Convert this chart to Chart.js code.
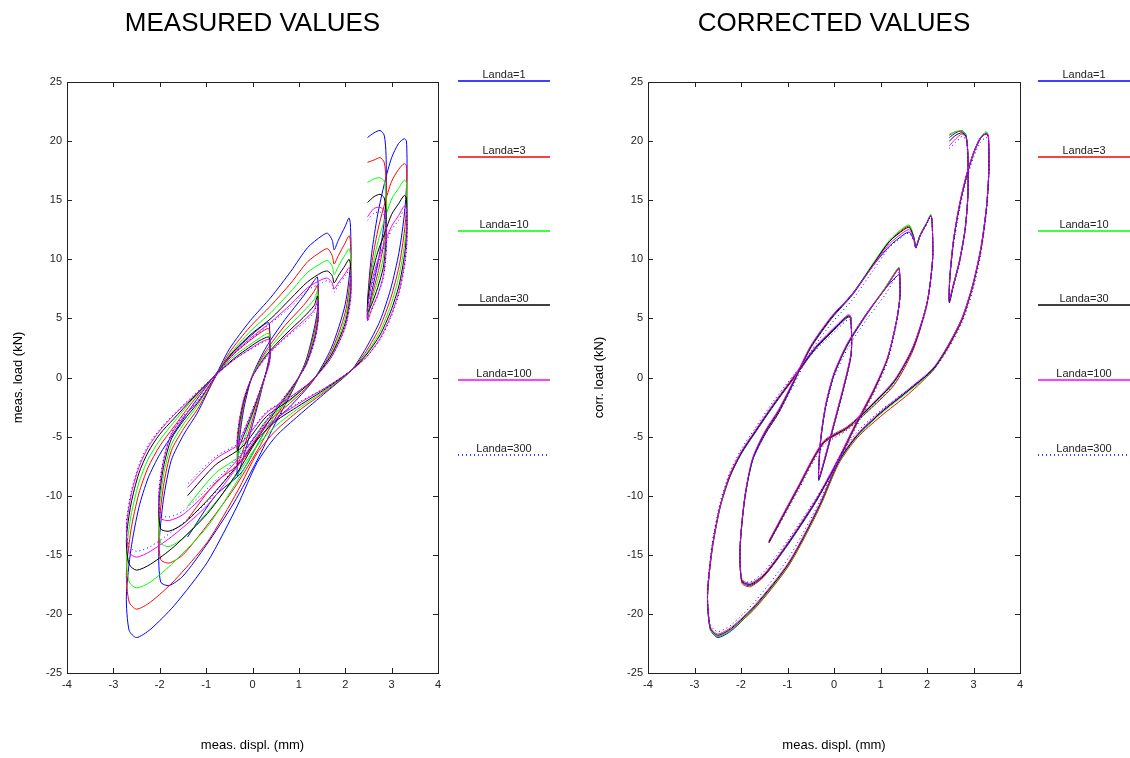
<!DOCTYPE html>
<html>
<head>
<meta charset="utf-8">
<script src="https://cdn.jsdelivr.net/npm/chart.js@4.4.1/dist/chart.umd.min.js"></script>
<style>
  html, body { margin: 0; padding: 0; background: #fff; }
  #wrap { position: relative; width: 1130px; height: 758px; }
  .pane { position: absolute; top: 0; width: 565px; height: 758px; }
  #left { left: 0; }
  #right { left: 565px; }
</style>
</head>
<body>
<div id="wrap">
  <div class="pane" id="left"><canvas id="measChart" width="565" height="758"></canvas></div>
  <div class="pane" id="right"><canvas id="corrChart" width="565" height="758"></canvas></div>
</div>
<script>
// displacement path (mm), shared by every series
const displ = [
  2.48, 2.62, 2.75, 2.84, 2.88, 2.88, 2.82, 2.70, 2.57, 2.48,
  2.49, 2.57, 2.70, 2.85, 3.00, 3.15, 3.27, 3.32, 3.33, 3.28,
  3.16, 2.98, 2.75, 2.45, 2.13, 1.60, 1.00, 0.50, 0.10, -0.32,
  -0.97, -1.69, -2.20, -2.50, -2.66, -2.72, -2.62, -2.45, -2.25, -2.00,
  -1.70, -1.30, -0.85, -0.40, 0.10, 0.30, 0.36, 0.37, 0.20, 0.00,
  -0.20, -0.33, -0.29, -0.18, 0.00, 0.30, 0.70, 1.10, 1.33, 1.40,
  1.42, 1.35, 1.15, 0.85, 0.45, 0.10, -0.40, -1.00, -1.50, -1.80,
  -1.98, -2.02, -1.92, -1.75, -1.48, -1.19, -0.85, -0.50, -0.05, 0.40,
  0.83, 1.19, 1.50, 1.62, 1.72, 1.76, 1.85, 2.00, 2.08, 2.11,
  2.12, 2.00, 1.70, 1.30, 0.80, 0.30, -0.23, -0.80, -1.40
];

// measured load (kN)
const measL1 = [
  20.3, 20.7, 20.9, 20.5, 18.8, 15.5, 12.5, 9.6, 7.2, 5.0,
  7.0, 10.5, 13.8, 16.5, 18.6, 19.8, 20.2, 20.0, 17.0, 14.0,
  10.6, 7.5, 4.8, 2.5, 0.6, -1.2, -3.2, -5.0, -7.2, -10.8,
  -15.6, -19.3, -21.3, -22.0, -21.4, -18.5, -14.5, -11.0, -8.5, -6.5,
  -4.7, -2.4, 0.0, 2.2, 4.0, 4.6, 4.6, 2.0, -1.0, -4.0,
  -6.8, -8.3, -5.5, -2.5, 0.2, 2.6, 4.9, 6.9, 8.2, 8.5,
  6.5, 4.5, 1.4, -1.2, -4.2, -7.0, -10.6, -14.2, -16.8, -17.6,
  -17.3, -14.5, -10.3, -7.0, -4.8, -3.0, -0.3, 2.4, 4.8, 6.8,
  9.0, 11.0, 12.0, 12.2, 11.6, 10.8, 11.6, 12.8, 13.5, 13.0,
  10.0, 6.2, 2.5, -0.3, -2.5, -4.4, -8.0, -10.0, -13.5
];
const measL3 = [
  18.2, 18.4, 18.6, 18.2, 16.7, 13.8, 11.1, 8.8, 6.8, 5.0,
  6.7, 9.6, 12.4, 14.7, 16.6, 17.6, 18.1, 17.9, 15.1, 12.5,
  9.4, 6.7, 4.3, 2.2, 0.6, -1.1, -2.8, -4.5, -6.4, -9.6,
  -13.9, -17.2, -19.0, -19.6, -19.0, -16.5, -12.9, -9.8, -7.6, -5.8,
  -4.2, -2.1, 0.0, 2.0, 3.6, 4.1, 4.1, 1.8, -0.9, -3.6,
  -6.1, -7.4, -4.9, -2.2, 0.2, 2.3, 4.4, 6.1, 7.3, 7.8,
  6.0, 4.1, 1.3, -1.1, -3.7, -6.2, -9.4, -12.6, -15.0, -15.7,
  -15.4, -12.9, -9.2, -6.2, -4.3, -2.7, -0.3, 2.1, 4.3, 6.1,
  8.0, 9.8, 10.7, 10.9, 10.3, 9.6, 10.3, 11.4, 12.0, 11.6,
  8.9, 5.5, 2.2, -0.3, -2.2, -3.9, -7.1, -8.9, -12.0
];
const measL10 = [
  16.5, 16.8, 16.9, 16.6, 15.2, 12.6, 10.1, 8.2, 6.5, 5.2,
  6.6, 9.0, 11.4, 13.4, 15.1, 16.0, 16.7, 16.5, 13.8, 11.3,
  8.6, 6.1, 3.9, 2.0, 0.6, -1.0, -2.6, -4.1, -5.8, -8.7,
  -12.6, -15.6, -17.3, -17.8, -17.3, -15.0, -11.7, -8.9, -6.9, -5.3,
  -3.8, -1.9, 0.0, 1.8, 3.2, 3.7, 3.7, 1.6, -0.8, -3.2,
  -5.5, -6.7, -4.5, -2.0, 0.2, 2.1, 4.0, 5.6, 6.6, 7.3,
  5.6, 3.8, 1.2, -1.0, -3.4, -5.7, -8.6, -11.5, -13.6, -14.3,
  -14.0, -11.7, -8.3, -5.7, -3.9, -2.4, -0.2, 1.9, 3.9, 5.5,
  7.3, 8.9, 9.7, 9.9, 9.4, 8.7, 9.4, 10.4, 10.9, 10.5,
  8.1, 5.0, 2.0, -0.2, -2.0, -3.6, -6.5, -8.1, -10.9
];
const measL30 = [
  14.8, 15.3, 15.5, 15.2, 13.9, 11.5, 9.3, 7.6, 6.2, 5.5,
  6.7, 8.6, 10.6, 12.2, 13.8, 14.7, 15.4, 15.2, 12.6, 10.4,
  7.8, 5.6, 3.6, 1.9, 0.6, -0.9, -2.4, -3.7, -5.3, -8.0,
  -11.5, -14.3, -15.8, -16.3, -15.8, -13.7, -10.7, -8.1, -6.3, -4.8,
  -3.5, -1.8, 0.0, 1.6, 3.0, 3.4, 3.4, 1.5, -0.7, -3.0,
  -5.0, -6.1, -4.1, -1.9, 0.1, 1.9, 3.6, 5.1, 6.1, 6.9,
  5.3, 3.5, 1.1, -0.9, -3.1, -5.2, -7.8, -10.5, -12.4, -13.0,
  -12.8, -10.7, -7.6, -5.2, -3.6, -2.2, -0.2, 1.8, 3.6, 5.0,
  6.7, 8.1, 8.9, 9.0, 8.6, 8.0, 8.6, 9.5, 10.0, 9.6,
  7.4, 4.6, 1.9, -0.2, -1.9, -3.3, -5.9, -7.4, -10.0
];
const measL100 = [
  13.6, 14.3, 14.4, 14.1, 13.0, 10.7, 8.6, 7.0, 5.8, 4.8,
  6.0, 8.0, 9.9, 11.4, 12.8, 13.7, 14.5, 14.3, 11.7, 9.7,
  7.3, 5.2, 3.3, 1.7, 0.6, -0.8, -2.2, -3.5, -5.0, -7.5,
  -10.8, -13.3, -14.7, -15.2, -14.8, -12.8, -10.0, -7.6, -5.9, -4.5,
  -3.2, -1.7, 0.0, 1.5, 2.8, 3.2, 3.2, 1.4, -0.7, -2.8,
  -4.7, -5.7, -3.8, -1.7, 0.1, 1.8, 3.4, 4.8, 5.7, 6.5,
  5.0, 3.3, 1.0, -0.8, -2.9, -4.8, -7.3, -9.8, -11.6, -12.1,
  -11.9, -10.0, -7.1, -4.8, -3.3, -2.1, -0.2, 1.7, 3.3, 4.7,
  6.2, 7.6, 8.3, 8.4, 8.0, 7.5, 8.0, 8.8, 9.3, 9.0,
  6.9, 4.3, 1.7, -0.2, -1.7, -3.0, -5.5, -6.9, -9.3
];
const measL300 = [
  13.3, 13.9, 14.0, 13.7, 12.6, 10.4, 8.4, 6.9, 5.7, 4.8,
  5.9, 7.8, 9.6, 11.1, 12.5, 13.3, 14.2, 14.0, 11.4, 9.4,
  7.1, 5.0, 3.2, 1.7, 0.6, -0.8, -2.1, -3.4, -4.8, -7.2,
  -10.5, -12.9, -14.3, -14.7, -14.3, -12.4, -9.7, -7.4, -5.7, -4.4,
  -3.1, -1.6, 0.0, 1.5, 2.7, 3.1, 3.1, 1.3, -0.7, -2.7,
  -4.6, -5.6, -3.7, -1.7, 0.1, 1.7, 3.3, 4.6, 5.5, 6.3,
  4.9, 3.2, 1.0, -0.8, -2.8, -4.7, -7.1, -9.5, -11.3, -11.8,
  -11.6, -9.7, -6.9, -4.7, -3.2, -2.0, -0.2, 1.6, 3.2, 4.6,
  6.0, 7.4, 8.0, 8.2, 7.8, 7.2, 7.8, 8.6, 9.0, 8.7,
  6.7, 4.2, 1.7, -0.2, -1.7, -2.9, -5.4, -6.7, -9.0
];

// corrected load (kN)
const corrL1 = [
  20.3, 20.7, 20.9, 20.5, 18.8, 15.5, 12.5, 9.8, 7.8, 6.3,
  8.3, 11.5, 14.5, 17.0, 18.9, 20.2, 20.7, 20.4, 17.5, 14.5,
  11.0, 7.8, 5.0, 2.7, 0.7, -1.1, -3.0, -4.9, -7.2, -11.0,
  -15.8, -19.4, -21.4, -22.0, -21.3, -18.5, -14.5, -11.0, -8.5, -6.5,
  -4.7, -2.4, 0.0, 2.4, 4.4, 5.1, 5.0, 2.0, -1.0, -4.0,
  -7.0, -8.7, -5.5, -2.5, 0.2, 2.8, 5.3, 7.5, 8.5, 8.7,
  7.0, 4.9, 1.6, -1.2, -4.2, -7.0, -10.6, -14.2, -16.8, -17.6,
  -17.3, -14.5, -10.3, -7.0, -4.8, -3.0, -0.3, 2.5, 5.0, 7.0,
  9.4, 11.1, 12.1, 12.3, 11.6, 11.0, 12.0, 13.1, 13.7, 13.2,
  10.0, 6.3, 2.6, -0.3, -2.4, -4.2, -5.6, -9.6, -14.0
];
const corrL3 = [
  20.5, 20.8, 20.8, 20.4, 18.7, 15.4, 12.5, 9.8, 7.8, 6.4,
  8.4, 11.6, 14.6, 17.1, 19.0, 20.3, 20.6, 20.3, 17.4, 14.3,
  10.8, 7.6, 4.8, 2.5, 0.6, -1.4, -3.3, -5.1, -7.3, -11.1,
  -15.9, -19.5, -21.3, -21.9, -21.3, -18.6, -14.6, -11.0, -8.5, -6.4,
  -4.6, -2.3, 0.0, 2.5, 4.5, 5.2, 5.1, 2.0, -1.0, -4.0,
  -7.0, -8.6, -5.4, -2.4, 0.3, 2.9, 5.4, 7.6, 9.0, 9.3,
  7.0, 4.9, 1.6, -1.2, -4.2, -7.0, -10.5, -14.1, -16.8, -17.7,
  -17.4, -14.6, -10.3, -6.9, -4.7, -2.9, -0.2, 2.6, 5.1, 7.1,
  9.5, 11.5, 12.6, 12.8, 11.8, 11.1, 12.0, 13.1, 13.7, 13.2,
  10.0, 6.2, 2.3, -0.6, -2.6, -4.3, -5.6, -9.6, -14.0
];
const corrL10 = [
  20.6, 20.8, 20.9, 20.5, 18.8, 15.5, 12.6, 9.9, 7.9, 6.5,
  8.4, 11.6, 14.6, 17.1, 19.0, 20.3, 20.8, 20.5, 17.5, 14.4,
  10.9, 7.7, 4.9, 2.6, 0.6, -1.2, -3.1, -5.0, -7.2, -11.0,
  -15.8, -19.4, -21.3, -21.9, -21.3, -18.5, -14.5, -11.0, -8.4, -6.4,
  -4.6, -2.3, 0.1, 2.5, 4.5, 5.2, 5.1, 2.1, -0.9, -3.9,
  -6.9, -8.6, -5.4, -2.4, 0.3, 2.9, 5.4, 7.6, 9.0, 9.3,
  7.0, 4.9, 1.6, -1.1, -4.1, -6.9, -10.5, -14.1, -16.7, -17.5,
  -17.2, -14.4, -10.2, -6.9, -4.6, -2.8, -0.2, 2.6, 5.1, 7.1,
  9.6, 11.6, 12.7, 12.9, 11.9, 11.1, 12.1, 13.2, 13.8, 13.3,
  10.1, 6.3, 2.5, -0.4, -2.5, -4.2, -5.5, -9.5, -13.9
];
const corrL30 = [
  20.0, 20.5, 20.7, 20.4, 18.7, 15.5, 12.6, 9.9, 7.9, 6.5,
  8.4, 11.6, 14.6, 17.1, 19.0, 20.3, 20.6, 20.4, 17.5, 14.4,
  10.9, 7.7, 4.9, 2.6, 0.7, -1.1, -3.0, -4.9, -7.1, -10.9,
  -15.7, -19.3, -21.2, -21.8, -21.2, -18.4, -14.4, -10.9, -8.4, -6.4,
  -4.6, -2.3, 0.1, 2.5, 4.5, 5.2, 5.1, 2.1, -0.9, -3.9,
  -6.9, -8.6, -5.4, -2.4, 0.3, 2.9, 5.4, 7.5, 8.9, 9.2,
  7.0, 4.9, 1.6, -1.1, -4.1, -6.9, -10.5, -14.1, -16.7, -17.5,
  -17.2, -14.4, -10.2, -6.9, -4.6, -2.8, -0.2, 2.6, 5.1, 7.1,
  9.5, 11.5, 12.5, 12.7, 11.8, 11.0, 12.0, 13.1, 13.7, 13.2,
  10.0, 6.3, 2.5, -0.3, -2.4, -4.2, -5.5, -9.5, -13.9
];
const corrL100 = [
  19.6, 20.2, 20.6, 20.3, 18.7, 15.5, 12.6, 9.9, 7.9, 6.6,
  8.5, 11.7, 14.7, 17.2, 19.0, 20.3, 20.6, 20.5, 17.6, 14.5,
  11.0, 7.8, 5.0, 2.7, 0.8, -1.0, -2.9, -4.8, -7.0, -10.8,
  -15.6, -19.2, -21.1, -21.7, -21.1, -18.3, -14.4, -10.9, -8.3, -6.3,
  -4.5, -2.2, 0.2, 2.6, 4.6, 5.3, 5.2, 2.2, -0.8, -3.8,
  -6.8, -8.5, -5.3, -2.3, 0.4, 3.0, 5.4, 7.5, 8.9, 9.2,
  7.0, 4.9, 1.7, -1.0, -4.0, -6.8, -10.4, -14.0, -16.6, -17.4,
  -17.1, -14.3, -10.1, -6.8, -4.5, -2.7, -0.1, 2.7, 5.2, 7.1,
  9.4, 11.3, 12.3, 12.5, 11.7, 11.0, 12.0, 13.1, 13.7, 13.2,
  10.0, 6.3, 2.6, -0.2, -2.3, -4.1, -5.4, -9.4, -13.8
];
const corrL300 = [
  19.4, 19.9, 20.4, 20.1, 18.5, 15.3, 12.4, 9.7, 7.7, 6.5,
  8.2, 11.2, 14.2, 16.7, 18.6, 19.9, 20.3, 20.1, 17.2, 14.0,
  10.5, 7.3, 4.6, 2.4, 0.6, -1.0, -2.8, -4.6, -6.8, -10.6,
  -15.2, -18.9, -20.9, -21.5, -20.9, -18.0, -14.0, -10.6, -8.1, -6.1,
  -4.3, -2.0, 0.3, 2.3, 4.2, 4.9, 4.8, 1.9, -1.1, -4.1,
  -7.0, -8.5, -5.5, -2.6, 0.0, 2.5, 4.9, 7.0, 8.5, 8.9,
  6.8, 4.6, 1.3, -1.4, -4.4, -7.1, -10.3, -13.8, -16.4, -17.3,
  -17.1, -14.3, -10.2, -7.0, -4.8, -3.0, -0.5, 2.2, 4.6, 6.6,
  9.0, 11.0, 12.0, 12.2, 11.5, 10.9, 11.9, 13.0, 13.6, 13.1,
  9.8, 6.1, 2.4, -0.5, -2.6, -4.4, -5.8, -9.8, -14.0
];

const seriesLabels = ["Landa=1", "Landa=3", "Landa=10", "Landa=30", "Landa=100", "Landa=300"];
const seriesColors = ["#0000ff", "#ff0000", "#00ff00", "#000000", "#ff00ff", "#0000ff"];
const seriesDash = [[], [], [], [], [], [1, 3]];
const xTicks = [-4, -3, -2, -1, 0, 1, 2, 3, 4];
const yTicks = [-25, -20, -15, -10, -5, 0, 5, 10, 15, 20, 25];

const FONT = "'Liberation Sans', Arial, Helvetica, sans-serif";
const legendY = [81, 157, 231, 305, 380, 455];

function buildDatasets(loads) {
    return loads.map(function (ys, i) {
        return {
            label: seriesLabels[i],
            data: displ.map(function (x, k) { return { x: x, y: ys[k] }; }),
            showLine: true,
            borderColor: seriesColors[i],
            borderWidth: 1,
            borderDash: seriesDash[i],
            pointRadius: 0,
            tension: 0.25,
            order: 6 - i,
        };
    });
}

// frame with inward ticks, big title and the side legend
const framePlugin = {
    id: "frame",
    afterDraw(chart, args, opts) {
        const ctx = chart.ctx;
        const a = chart.chartArea;
        const sx = chart.scales.x;
        const sy = chart.scales.y;
        ctx.save();
        ctx.strokeStyle = "#222";
        ctx.lineWidth = 1;
        ctx.strokeRect(a.left + 0.5, a.top + 0.5, a.right - a.left, a.bottom - a.top);
        ctx.beginPath();
        xTicks.forEach(function (v) {
            const px = Math.round(sx.getPixelForValue(v)) + 0.5;
            ctx.moveTo(px, a.bottom); ctx.lineTo(px, a.bottom - 5);
            ctx.moveTo(px, a.top); ctx.lineTo(px, a.top + 5);
        });
        yTicks.forEach(function (v) {
            const py = Math.round(sy.getPixelForValue(v)) + 0.5;
            ctx.moveTo(a.left, py); ctx.lineTo(a.left + 5, py);
            ctx.moveTo(a.right, py); ctx.lineTo(a.right - 5, py);
        });
        ctx.stroke();

        ctx.fillStyle = "#000";
        ctx.font = "26px " + FONT;
        ctx.textAlign = "center";
        ctx.textBaseline = "middle";
        ctx.fillText(opts.title, (a.left + a.right) / 2, 24);

        ctx.font = "11px " + FONT;
        ctx.textBaseline = "alphabetic";
        seriesLabels.forEach(function (lab, i) {
            const y = legendY[i];
            ctx.fillStyle = "#222";
            ctx.fillText(lab, opts.legendX + 46, y - 3);
            ctx.strokeStyle = seriesColors[i];
            ctx.lineWidth = 1.3;
            ctx.setLineDash(seriesDash[i]);
            ctx.beginPath();
            ctx.moveTo(opts.legendX, y);
            ctx.lineTo(opts.legendX + 92, y);
            ctx.stroke();
        });
        ctx.setLineDash([]);
        ctx.restore();
    },
};

function makeChart(canvasId, loads, opts) {
    const ctx = document.getElementById(canvasId).getContext("2d");
    return new Chart(ctx, {
        type: "scatter",
        data: { datasets: buildDatasets(loads) },
        options: {
            responsive: false,
            animation: false,
            layout: { padding: { top: 82, right: opts.padRight, left: 0, bottom: 0 } },
            plugins: {
                legend: { display: false },
                tooltip: { enabled: false },
                frame: { title: opts.title, legendX: opts.legendX },
            },
            scales: {
                x: {
                    type: "linear",
                    min: -4,
                    max: 4,
                    afterBuildTicks: function (s) { s.ticks = xTicks.map(function (v) { return { value: v }; }); },
                    afterFit: function (s) { s.height = 85; s.paddingLeft = 0; s.paddingRight = 0; },
                    grid: { display: false, drawTicks: false },
                    border: { display: false },
                    ticks: { color: "#222", padding: 5, maxRotation: 0, font: { family: FONT, size: 11 } },
                    title: {
                        display: true,
                        text: "meas. displ. (mm)",
                        color: "#000",
                        font: { family: FONT, size: 13 },
                        padding: { top: 0, bottom: 5 },
                    },
                },
                y: {
                    type: "linear",
                    min: -25,
                    max: 25,
                    afterBuildTicks: function (s) { s.ticks = yTicks.map(function (v) { return { value: v }; }); },
                    afterFit: function (s) { s.width = opts.yWidth; s.paddingTop = 0; s.paddingBottom = 0; },
                    grid: { display: false, drawTicks: false },
                    border: { display: false },
                    ticks: { color: "#222", padding: 5, font: { family: FONT, size: 11 } },
                    title: {
                        display: true,
                        text: opts.yTitle,
                        color: "#000",
                        font: { family: FONT, size: 13 },
                        padding: { top: opts.yTitlePad, bottom: 0 },
                    },
                },
            },
        },
        plugins: [framePlugin],
    });
}

makeChart("measChart", [measL1, measL3, measL10, measL30, measL100, measL300], {
    title: "MEASURED VALUES",
    yTitle: "meas. load (kN)",
    yWidth: 67,
    yTitlePad: 11,
    padRight: 127,
    legendX: 458,
});

makeChart("corrChart", [corrL1, corrL3, corrL10, corrL30, corrL100, corrL300], {
    title: "CORRECTED VALUES",
    yTitle: "corr. load (kN)",
    yWidth: 83,
    yTitlePad: 27,
    padRight: 110,
    legendX: 473,
});
</script>
</body>
</html>
